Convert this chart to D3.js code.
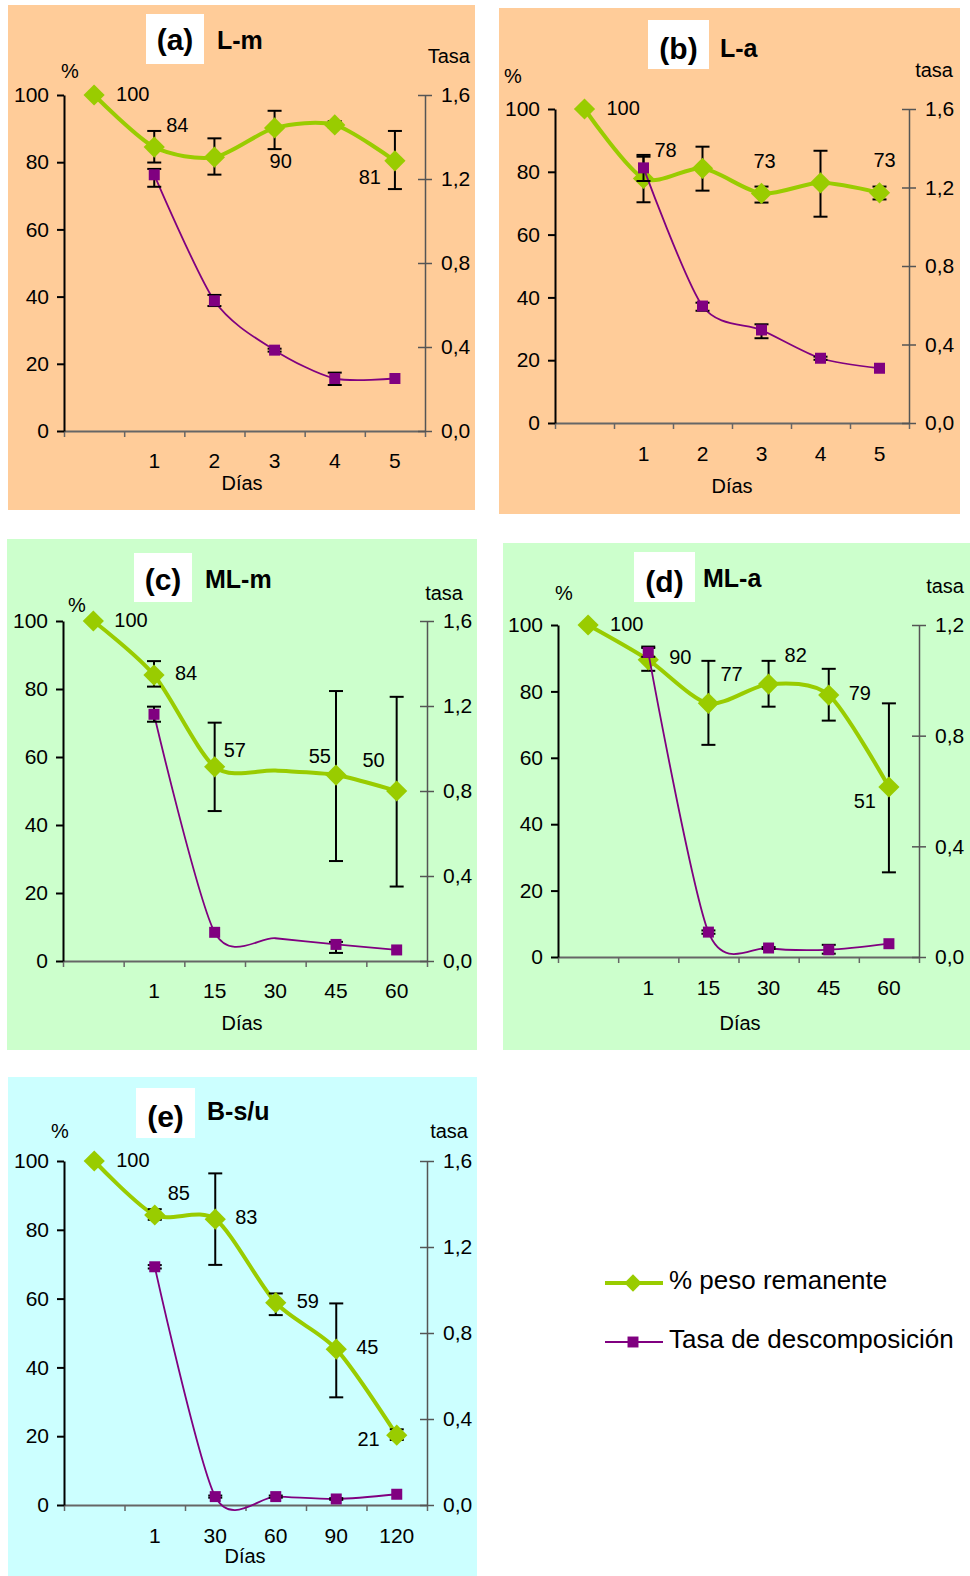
<!DOCTYPE html>
<html>
<head>
<meta charset="utf-8">
<script src="https://cdn.jsdelivr.net/npm/d3@7"></script>
<style>
  html, body { margin: 0; padding: 0; background: #ffffff; }
  svg { display: block; }
  text { font-family: "Liberation Sans", Arial, sans-serif; fill: #000; }
</style>
</head>
<body>
<script>
// ---------------- DATA ----------------
// Panel (a) L-m
const catsA    = ['', '1', '2', '3', '4', '5'];
const pesoA    = [100, 84.5, 81.5, 90.2, 91.1, 80.4];
const pesoLoA  = [null, 79.9, 76.3, 83.9, 90.4, 72.0];
const pesoHiA  = [null, 89.3, 87.1, 95.3, 92.2, 89.3];
const pesoLblA = ['100', '84', '', '90', '', '81'];
const tasaA    = [null, 1.22, 0.62, 0.385, 0.25, 0.25];
const tasaLoA  = [null, 1.163, 0.595, 0.378, 0.219, null];
const tasaHiA  = [null, 1.248, 0.648, 0.392, 0.278, null];

// Panel (b) L-a
const catsB    = ['', '1', '2', '3', '4', '5'];
const pesoB    = [100, 77.9, 81.1, 73.1, 76.5, 73.3];
const pesoLoB  = [null, 70.3, 74.0, 70.2, 65.7, 71.2];
const pesoHiB  = [null, 84.8, 88.0, 75.3, 86.7, 75.3];
const pesoLblB = ['100', '78', '', '73', '', '73'];
const tasaB    = [null, 1.30, 0.596, 0.474, 0.33, 0.279];
const tasaLoB  = [null, 1.233, 0.572, 0.432, 0.322, null];
const tasaHiB  = [null, 1.366, 0.613, 0.503, 0.338, null];

// Panel (c) ML-m  (point at 30 has no visible marker)
const catsC    = ['', '1', '15', '30', '45', '60'];
const pesoC    = [100, 84.1, 57.1, 56.0, 54.7, 50.0];
const pesoLoC  = [null, 80.7, 44.1, null, 29.4, 21.9];
const pesoHiC  = [null, 88.2, 70.1, null, 79.4, 77.7];
const pesoLblC = ['100', '84', '57', '', '55', '50'];
const pesoMkC  = [true, true, true, false, true, true];
const tasaC    = [null, 1.161, 0.135, 0.107, 0.078, 0.052];
const tasaLoC  = [null, 1.126, null, null, 0.038, null];
const tasaHiC  = [null, 1.197, null, null, 0.09, null];
const tasaMkC  = [false, true, true, false, true, true];

// Panel (d) ML-a
const catsD    = ['', '1', '15', '30', '45', '60'];
const pesoD    = [100, 89.5, 76.4, 82.2, 78.9, 51.2];
const pesoLoD  = [null, 86.2, 63.9, 75.4, 71.2, 25.5];
const pesoHiD  = [null, 93.5, 89.2, 89.2, 86.8, 76.4];
const pesoLblD = ['100', '90', '77', '82', '79', '51'];
const tasaD    = [null, 1.101, 0.090, 0.0325, 0.026, 0.048];
const tasaLoD  = [null, 1.085, 0.084, 0.029, 0.012, null];
const tasaHiD  = [null, 1.117, 0.096, 0.036, 0.044, null];

// Panel (e) B-s/u
const catsE    = ['', '1', '30', '60', '90', '120'];
const pesoE    = [100, 84.3, 83.1, 58.8, 45.3, 20.3];
const pesoLoE  = [null, 82.9, 69.8, 55.2, 31.3, 18.9];
const pesoHiE  = [null, 86.0, 96.4, 61.5, 58.6, 22.0];
const pesoLblE = ['100', '85', '83', '59', '45', '21'];
const tasaE    = [null, 1.108, 0.039, 0.039, 0.028, 0.05];
const tasaLoE  = [null, 1.10, 0.034, 0.034, 0.024, null];
const tasaHiE  = [null, 1.116, 0.044, 0.044, 0.032, null];

const pesoTicks = [0, 20, 40, 60, 80, 100];
const tasaTicks16 = [0, 0.4, 0.8, 1.2, 1.6];
const tasaTicks12 = [0, 0.4, 0.8, 1.2];

const legendLabels = ['% peso remanente', 'Tasa de descomposición'];

// ---------------- LAYOUT ----------------
const GREEN = '#99CC00', PURPLE = '#800080';
const panels = [
  { id: '(a)', name: 'L-m', cats: catsA, peso: pesoA, pLo: pesoLoA, pHi: pesoHiA, lbl: pesoLblA,
    tasa: tasaA, tLo: tasaLoA, tHi: tasaHiA, tMax: 1.6, tTicks: tasaTicks16, rTitle: 'Tasa',
    bg: '#FFCC99', box: [8, 5, 467, 505], L: 64, R: 425, T: 95, B: 431,
    tbox: [146, 14, 58, 50], tBase: 50, nameX: 217, nameBase: 49,
    pct: [70, 78], rt: [470, 63], xLblBase: 468, dias: [242, 490],
    lpos: [[22, 6, 'start'], [12, -15, 'start'], null, [-5, 40, 'start'], null, [-14, 23, 'end']] },
  { id: '(b)', name: 'L-a', cats: catsB, peso: pesoB, pLo: pesoLoB, pHi: pesoHiB, lbl: pesoLblB,
    tasa: tasaB, tLo: tasaLoB, tHi: tasaHiB, tMax: 1.6, tTicks: tasaTicks16, rTitle: 'tasa',
    bg: '#FFCC99', box: [499, 8, 461, 506], L: 555, R: 909, T: 109, B: 423,
    tbox: [648, 20, 61, 49], tBase: 59, nameX: 720, nameBase: 57,
    pct: [513, 83], rt: [953, 77], xLblBase: 461, dias: [732, 493],
    lpos: [[22, 6, 'start'], [11, -21, 'start'], null, [-8, -25, 'start'], null, [-6, -26, 'start']] },
  { id: '(c)', name: 'ML-m', cats: catsC, peso: pesoC, pLo: pesoLoC, pHi: pesoHiC, lbl: pesoLblC,
    pMk: pesoMkC, tMk: tasaMkC,
    tasa: tasaC, tLo: tasaLoC, tHi: tasaHiC, tMax: 1.6, tTicks: tasaTicks16, rTitle: 'tasa',
    bg: '#CCFFCC', box: [7, 539, 470, 511], L: 63, R: 427, T: 621, B: 961,
    tbox: [134, 553, 58, 49], tBase: 590, nameX: 205, nameBase: 588,
    pct: [77, 612], rt: [463, 600], xLblBase: 998, dias: [242, 1030],
    lpos: [[21, 6, 'start'], [21, 5, 'start'], [9, -10, 'start'], null, [-5, -12, 'end'], [-12, -24, 'end']] },
  { id: '(d)', name: 'ML-a', cats: catsD, peso: pesoD, pLo: pesoLoD, pHi: pesoHiD, lbl: pesoLblD,
    tasa: tasaD, tLo: tasaLoD, tHi: tasaHiD, tMax: 1.2, tTicks: tasaTicks12, rTitle: 'tasa',
    bg: '#CCFFCC', box: [503, 543, 467, 507], L: 558, R: 919, T: 625, B: 957,
    tbox: [634, 552, 61, 50], tBase: 592, nameX: 703, nameBase: 587,
    pct: [564, 600], rt: [964, 593], xLblBase: 995, dias: [740, 1030],
    lpos: [[22, 6, 'start'], [21, 4, 'start'], [12, -22, 'start'], [16, -22, 'start'], [20, 5, 'start'], [-13, 21, 'end']] },
  { id: '(e)', name: 'B-s/u', cats: catsE, peso: pesoE, pLo: pesoLoE, pHi: pesoHiE, lbl: pesoLblE,
    tasa: tasaE, tLo: tasaLoE, tHi: tasaHiE, tMax: 1.6, tTicks: tasaTicks16, rTitle: 'tasa',
    bg: '#CCFFFF', box: [8, 1077, 469, 499], L: 64, R: 427, T: 1161, B: 1505,
    tbox: [136, 1088, 59, 50], tBase: 1127, nameX: 207, nameBase: 1120,
    pct: [60, 1138], rt: [468, 1138], xLblBase: 1543, dias: [245, 1563],
    lpos: [[22, 6, 'start'], [13, -15, 'start'], [20, 5, 'start'], [21, 5, 'start'], [20, 5, 'start'], [-17, 11, 'end']] }
];

const svg = d3.select('body').append('svg').attr('width', 970).attr('height', 1576);
const commaFmt = v => d3.format('.1f')(v).replace('.', ',');
const diamond = d3.symbol(d3.symbolSquare, 225);
const square = d3.symbol(d3.symbolSquare, 121);
const curve = d3.curveCardinal.tension(0.2);

function drawPanel(p) {
  const g = svg.append('g');
  g.append('rect').attr('x', p.box[0]).attr('y', p.box[1]).attr('width', p.box[2]).attr('height', p.box[3]).attr('fill', p.bg);
  g.append('rect').attr('x', p.tbox[0]).attr('y', p.tbox[1]).attr('width', p.tbox[2]).attr('height', p.tbox[3]).attr('fill', '#fff');
  g.append('text').attr('x', p.tbox[0] + p.tbox[2] / 2).attr('y', p.tBase).attr('text-anchor', 'middle')
    .attr('font-size', 30).attr('font-weight', 'bold').text(p.id);
  g.append('text').attr('x', p.nameX).attr('y', p.nameBase).attr('font-size', 25).attr('font-weight', 'bold').text(p.name);

  const n = p.cats.length;
  const x = d3.scaleBand().domain(d3.range(n)).range([p.L, p.R]).padding(0);
  const xb = d3.scaleLinear().domain([0, n]).range([p.L, p.R]);
  const y = d3.scaleLinear().domain([0, 100]).range([p.B, p.T]);
  const y2 = d3.scaleLinear().domain([0, p.tMax]).range([p.B, p.T]);
  const cx = i => x(i) + x.bandwidth() / 2;

  // x axis: boundary ticks
  const gx = g.append('g').attr('transform', `translate(0,${p.B})`)
    .call(d3.axisBottom(xb).tickValues(d3.range(n + 1)).tickFormat('').tickSizeInner(6).tickSizeOuter(0));
  gx.select('.domain').attr('stroke', '#666').attr('stroke-width', 2);
  gx.selectAll('.tick line').attr('stroke', '#666').attr('stroke-width', 1.5);
  // x category labels
  const gxl = g.append('g').attr('transform', `translate(0,${p.B})`)
    .call(d3.axisBottom(x).tickFormat(i => p.cats[i]).tickSize(0));
  gxl.select('.domain').remove();
  gxl.selectAll('.tick text').attr('y', p.xLblBase - p.B).attr('dy', null)
    .attr('font-size', 21).attr('font-family', '"Liberation Sans", Arial, sans-serif').attr('fill', '#000');

  // left axis
  const gl = g.append('g').attr('transform', `translate(${p.L},0)`)
    .call(d3.axisLeft(y).tickValues(pesoTicks).tickSizeInner(7).tickSizeOuter(0).tickPadding(8));
  gl.select('.domain').attr('stroke', '#000').attr('stroke-width', 2);
  gl.selectAll('.tick line').attr('stroke', '#000').attr('stroke-width', 2);
  gl.selectAll('.tick text').attr('font-size', 21).attr('font-family', '"Liberation Sans", Arial, sans-serif').attr('fill', '#000');

  // right axis
  const gr = g.append('g').attr('transform', `translate(${p.R},0)`)
    .call(d3.axisRight(y2).tickValues(p.tTicks).tickFormat(commaFmt).tickSizeInner(7).tickSizeOuter(0).tickPadding(9));
  gr.select('.domain').attr('stroke', '#555').attr('stroke-width', 1.5);
  gr.selectAll('.tick line').attr('x1', -7).attr('stroke', '#555').attr('stroke-width', 1.5);
  gr.selectAll('.tick text').attr('font-size', 21).attr('font-family', '"Liberation Sans", Arial, sans-serif').attr('fill', '#000');

  // axis titles
  g.append('text').attr('x', p.pct[0]).attr('y', p.pct[1]).attr('text-anchor', 'middle').attr('font-size', 20).text('%');
  g.append('text').attr('x', p.rt[0]).attr('y', p.rt[1]).attr('text-anchor', 'end').attr('font-size', 20).text(p.rTitle);
  g.append('text').attr('x', p.dias[0]).attr('y', p.dias[1]).attr('text-anchor', 'middle').attr('font-size', 20).text('Días');

  const pData = p.peso.map((v, i) => ({ i, v, lo: p.pLo[i], hi: p.pHi[i], mk: p.pMk ? p.pMk[i] : v != null }));
  const tData = p.tasa.map((v, i) => ({ i, v, lo: p.tLo[i], hi: p.tHi[i], mk: p.tMk ? p.tMk[i] : v != null }));

  function errBars(data, ys) {
    const eb = g.append('g').attr('stroke', '#000').attr('stroke-width', 2).attr('fill', 'none');
    data.filter(d => d.lo != null && d.hi != null).forEach(d => {
      const X = cx(d.i);
      eb.append('line').attr('x1', X).attr('x2', X).attr('y1', ys(d.lo)).attr('y2', ys(d.hi));
      eb.append('line').attr('x1', X - 7).attr('x2', X + 7).attr('y1', ys(d.lo)).attr('y2', ys(d.lo));
      eb.append('line').attr('x1', X - 7).attr('x2', X + 7).attr('y1', ys(d.hi)).attr('y2', ys(d.hi));
    });
  }

  // peso series
  g.append('path').datum(pData)
    .attr('d', d3.line().defined(d => d.v != null).x(d => cx(d.i)).y(d => y(d.v)).curve(curve))
    .attr('fill', 'none').attr('stroke', GREEN).attr('stroke-width', 4).attr('stroke-linejoin', 'round');
  errBars(pData, y);
  g.selectAll(null).data(pData.filter(d => d.v != null && d.mk)).enter().append('path')
    .attr('d', diamond).attr('fill', GREEN)
    .attr('transform', d => `translate(${cx(d.i)},${y(d.v)}) rotate(45)`);

  // tasa series
  g.append('path').datum(tData)
    .attr('d', d3.line().defined(d => d.v != null).x(d => cx(d.i)).y(d => y2(d.v)).curve(curve))
    .attr('fill', 'none').attr('stroke', PURPLE).attr('stroke-width', 1.8);
  errBars(tData, y2);
  g.selectAll(null).data(tData.filter(d => d.v != null && d.mk)).enter().append('path')
    .attr('d', square).attr('fill', PURPLE)
    .attr('transform', d => `translate(${cx(d.i)},${y2(d.v)})`);

  // data labels
  pData.forEach(d => {
    const lp = p.lpos[d.i];
    const t = p.lbl[d.i];
    if (!t || !lp) return;
    g.append('text').attr('x', cx(d.i) + lp[0]).attr('y', y(d.v) + lp[1]).attr('text-anchor', lp[2])
      .attr('font-size', 20).text(t);
  });
}

panels.forEach(drawPanel);

// legend
const lg = svg.append('g');
const legendRows = [
  { label: legendLabels[0], color: GREEN, w: 4, y: 1283, sym: d3.symbol(d3.symbolSquare, 150), rot: 45 },
  { label: legendLabels[1], color: PURPLE, w: 1.8, y: 1342, sym: d3.symbol(d3.symbolSquare, 120), rot: 0 }
];
legendRows.forEach(r => {
  lg.append('line').attr('x1', 605).attr('x2', 663).attr('y1', r.y).attr('y2', r.y)
    .attr('stroke', r.color).attr('stroke-width', r.w);
  lg.append('path').attr('d', r.sym).attr('fill', r.color)
    .attr('transform', `translate(633,${r.y}) rotate(${r.rot})`);
  lg.append('text').attr('x', 669).attr('y', r.y + 6).attr('font-size', 26).text(r.label);
});
</script>
</body>
</html>
